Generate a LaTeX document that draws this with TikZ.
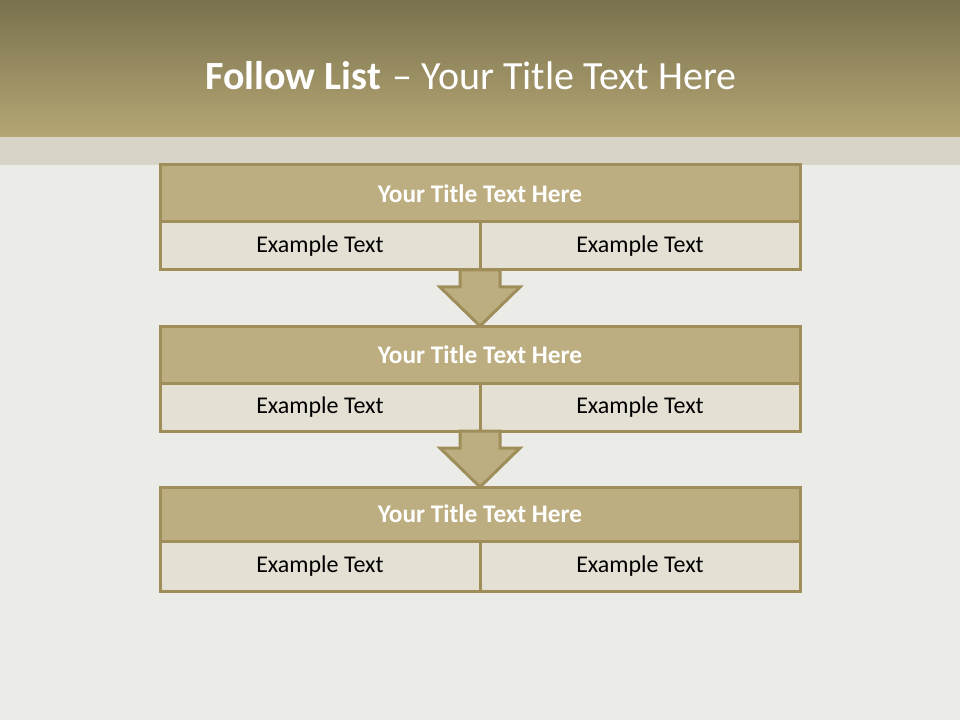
\documentclass[tikz,border=0pt]{standalone}
\usepackage{fontspec}
\setmainfont{Carlito}
\usetikzlibrary{positioning, calc}

\definecolor{bandtop}{HTML}{79704E}
\definecolor{bandbot}{HTML}{B5A774}
\definecolor{stripbg}{HTML}{D8D4C7}
\definecolor{pagebg}{HTML}{EBEBE8}
\definecolor{khaki}{HTML}{BCAE80}
\definecolor{edge}{HTML}{A08E5A}
\definecolor{cellfill}{HTML}{E5E0D4}

\begin{document}
\begin{tikzpicture}[x=0.75pt, y=-0.75pt,
				titlebox/.style={draw=edge, fill=khaki, line width=2.25pt, outer sep=0pt, minimum width=480pt, minimum height=42.75pt, font=\fontsize{19}{23}\selectfont\bfseries, text=white},
				cellbox/.style={draw=edge, fill=cellfill, line width=2.25pt, outer sep=0pt, minimum width=240pt, minimum height=36pt, font=\fontsize{18}{22}\selectfont, text=black},
				downarrow/.style={draw=edge, fill=khaki, line width=2.25pt, line join=miter},
			]
			\useasboundingbox (0,0) rectangle (960,720);

			% background
			\fill[pagebg] (0,0) rectangle (960,720);
			\fill[stripbg] (0,137) rectangle (960,165);
			\shade[top color=bandtop, bottom color=bandbot] (0,0) rectangle (960,137);

			% heading
			\node[text=white, font=\fontsize{30}{36}\selectfont] (head) at (471,76)
			{\textbf{Follow List}\hspace*{2pt} – Your Title Text Here};

			% first box
			\node[titlebox] (t1) at (480,193.5) {Your Title Text Here};
			\node[cellbox, anchor=north west] (l1) at (t1.south west) {Example Text};
			\node[cellbox, anchor=north east] (r1) at (t1.south east) {Example Text};

			% second box
			\node[titlebox, below=42pt of l1.south east] (t2) {Your Title Text Here};
			\node[cellbox, anchor=north west] (l2) at (t2.south west) {Example Text};
			\node[cellbox, anchor=north east] (r2) at (t2.south east) {Example Text};

			% third box
			\node[titlebox, minimum height=40.5pt, below=42pt of l2.south east] (t3) {Your Title Text Here};
			\node[cellbox, minimum height=37.5pt, anchor=north west] (l3) at (t3.south west) {Example Text};
			\node[cellbox, minimum height=37.5pt, anchor=north east] (r3) at (t3.south east) {Example Text};

			% arrows between boxes
			\draw[downarrow] ($(l1.south east)+(-20,0)$) -- ++(0,17) -- ++(-20,0)
			-- (t2.north) -- ($(l1.south east)+(40,17)$) -- ++(-20,0) -- ++(0,-17) -- cycle;
			\draw[downarrow] ($(l2.south east)+(-20,0)$) -- ++(0,17) -- ++(-20,0)
			-- (t3.north) -- ($(l2.south east)+(40,17)$) -- ++(-20,0) -- ++(0,-17) -- cycle;
		\end{tikzpicture}
\end{document}
